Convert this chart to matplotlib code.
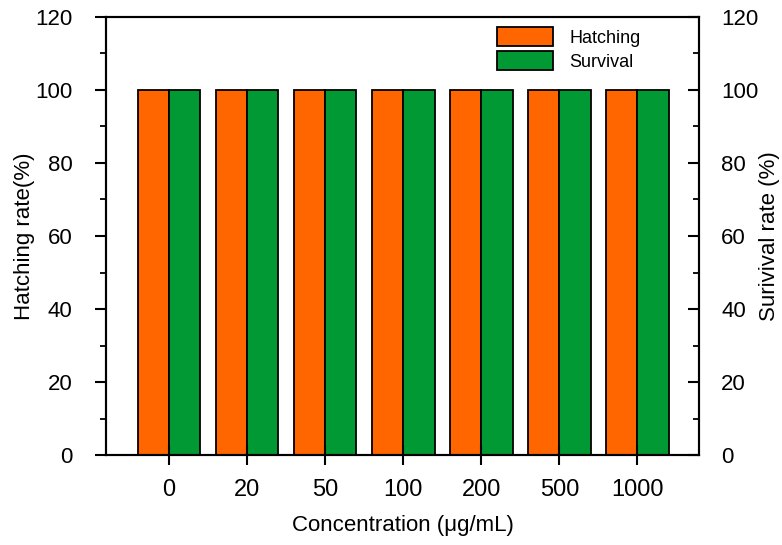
import numpy as np
import matplotlib.pyplot as plt
from matplotlib.ticker import MultipleLocator

plt.rcParams['font.family'] = ['Liberation Sans', 'DejaVu Sans']

# Concentrations tested and the rates for each group
concentrations = ['0', '20', '50', '100', '200', '500', '1000']
hatching = [100, 100, 100, 100, 100, 100, 100]
survival = [100, 100, 100, 100, 100, 100, 100]

x = np.arange(len(concentrations))
w = 0.4

fig = plt.figure(figsize=(7.82, 5.45), dpi=100)
ax = fig.add_axes([0.1355, 0.165, 0.7585, 0.804])

ax.bar(x - w / 2, hatching, w, color='#FF6600', edgecolor='black', linewidth=1.3, label='Hatching')
ax.bar(x + w / 2, survival, w, color='#009933', edgecolor='black', linewidth=1.3, label='Survival')

ax.set_xlim(-0.81, 6.79)
ax.set_ylim(0, 120)
ax.set_xticks(x)
ax.set_xticklabels(concentrations)
ax.yaxis.set_major_locator(MultipleLocator(20))
ax.yaxis.set_minor_locator(MultipleLocator(10))

for s in ax.spines.values():
    s.set_linewidth(1.5)

ax.tick_params(axis='x', direction='inout', length=14, width=1.5, labelsize=17, pad=10, top=False)
ax.tick_params(axis='y', which='major', direction='out', length=8, width=1.5, labelsize=16, pad=16)
ax.tick_params(axis='y', which='minor', direction='out', length=4.5, width=1.3)

ax.set_xlabel('Concentration (\u03bcg/mL)', fontsize=16, labelpad=10)
ax.set_ylabel('Hatching rate(%)', fontsize=16, labelpad=0)

# right-hand axis for survival
ax2 = ax.twinx()
ax2.set_ylim(0, 120)
ax2.yaxis.set_major_locator(MultipleLocator(20))
ax2.yaxis.set_minor_locator(MultipleLocator(10))
ax2.tick_params(axis='y', which='major', direction='in', length=8, width=1.5, labelsize=16, pad=16)
ax2.tick_params(axis='y', which='minor', direction='in', length=4.5, width=1.3)
ax2.set_ylabel('Surivival rate (%)', fontsize=16, labelpad=0)
for s in ax2.spines.values():
    s.set_linewidth(1.5)

ax.legend(loc='upper left', bbox_to_anchor=(0.659, 0.976), frameon=False, fontsize=13,
          borderpad=0, borderaxespad=0, handlelength=3.1, handleheight=1.2,
          labelspacing=0.25, handletextpad=0.9)

fig.savefig('out.png', dpi=100)
